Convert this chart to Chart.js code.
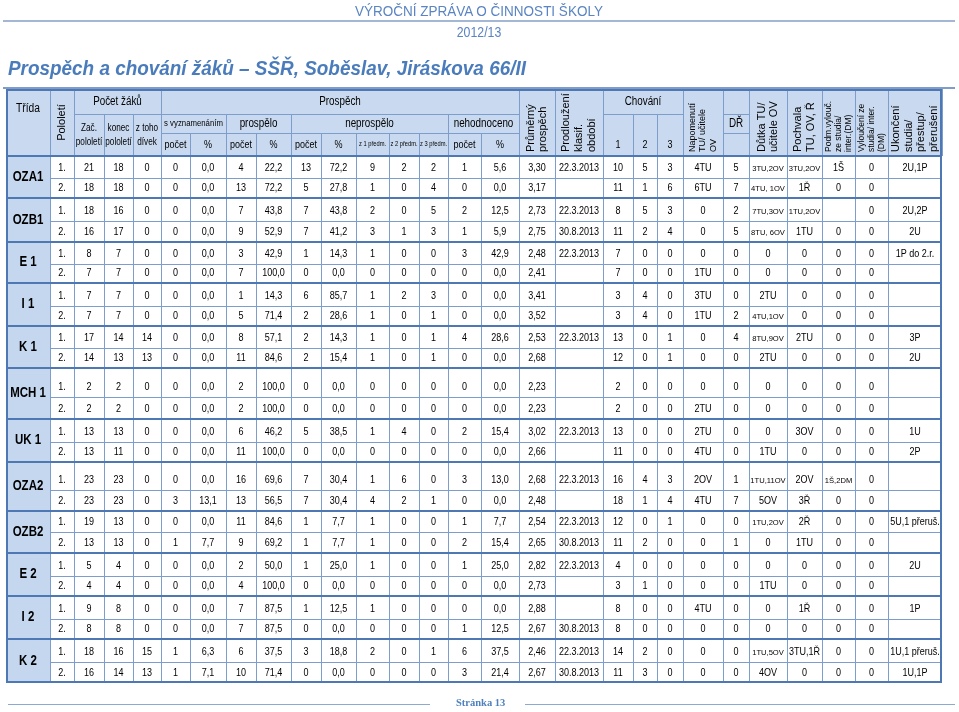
<!DOCTYPE html>
<html lang="cs">
<head>
<meta charset="utf-8">
<title>Prospěch a chování žáků</title>
<script src="https://cdn.jsdelivr.net/npm/chart.js@4.4.0/dist/chart.umd.min.js"></script>
<style>
html, body { margin: 0; padding: 0; background: #fff; }
body { width: 959px; height: 712px; position: relative; overflow: hidden; font-family: "Liberation Sans", Arial, sans-serif; }
#wrap { position: absolute; left: 0; top: 0; width: 959px; height: 712px; }
.txt { position: absolute; white-space: nowrap; color: #4f7fbf; line-height: 1; }
.line { position: absolute; }
#zprava { left: 479px; top: 3px; font-size: 15px; transform: translateX(-50%) scaleX(0.9); color: #5a84c2; }
#rok { left: 479px; top: 25px; font-size: 14px; transform: translateX(-50%) scaleX(0.88); color: #5a84c2; }
#nadpis { left: 8px; top: 57px; font-size: 21px; font-weight: bold; font-style: italic; transform-origin: 0 0; transform: scaleX(0.9); color: #4a7cbc; }
#strana { left: 456px; top: 698px; font-size: 10.5px; font-weight: bold; font-family: "Liberation Serif", "DejaVu Serif", serif; color: #4f81bd; }
</style>
</head>
<body>
<div id="wrap"><canvas id="tabulka"></canvas></div>
<div class="txt" id="zprava">VÝROČNÍ ZPRÁVA O ČINNOSTI ŠKOLY</div>
<div class="line" style="left:3px;top:20px;width:952px;height:2px;background:#a3b6d3"></div>
<div class="txt" id="rok">2012/13</div>
<div class="txt" id="nadpis">Prospěch a chování žáků – SŠŘ, Soběslav, Jiráskova 66/II</div>
<div class="line" style="left:3px;top:87px;width:952px;height:2px;background:#7f9ccb"></div>
<div class="line" style="left:8px;top:704px;width:422px;height:1px;background:#8ea9cf"></div>
<div class="txt" id="strana">Stránka 13</div>
<div class="line" style="left:525px;top:704px;width:430px;height:1px;background:#8ea9cf"></div>
<script>
// tridy a pololeti
const tridy = ['OZA1', 'OZB1', 'E 1', 'I 1', 'K 1', 'MCH 1', 'UK 1', 'OZA2', 'OZB2', 'E 2', 'I 2', 'K 2'];
const pololeti = ['1.', '2.'];

// pocet zaku
const zacPololeti = [21, 18, 18, 16, 8, 7, 7, 7, 17, 14, 2, 2, 13, 13, 23, 23, 19, 13, 5, 4, 9, 8, 18, 16];
const konecPololeti = [18, 18, 16, 17, 7, 7, 7, 7, 14, 13, 2, 2, 13, 11, 23, 23, 13, 13, 4, 4, 8, 8, 16, 14];
const divek = [0, 0, 0, 0, 0, 0, 0, 0, 14, 13, 0, 0, 0, 0, 0, 0, 0, 0, 0, 0, 0, 0, 15, 13];

// prospech
const vyznPocet = [0, 0, 0, 0, 0, 0, 0, 0, 0, 0, 0, 0, 0, 0, 0, 3, 0, 1, 0, 0, 0, 0, 1, 1];
const vyznProc = [0, 0, 0, 0, 0, 0, 0, 0, 0, 0, 0, 0, 0, 0, 0, 13.1, 0, 7.7, 0, 0, 0, 0, 6.3, 7.1];
const prospPocet = [4, 13, 7, 9, 3, 7, 1, 5, 8, 11, 2, 2, 6, 11, 16, 13, 11, 9, 2, 4, 7, 7, 6, 10];
const prospProc = [22.2, 72.2, 43.8, 52.9, 42.9, 100, 14.3, 71.4, 57.1, 84.6, 100, 100, 46.2, 100, 69.6, 56.5, 84.6, 69.2, 50, 100, 87.5, 87.5, 37.5, 71.4];
const neprospPocet = [13, 5, 7, 7, 1, 0, 6, 2, 2, 2, 0, 0, 5, 0, 7, 7, 1, 1, 1, 0, 1, 0, 3, 0];
const neprospProc = [72.2, 27.8, 43.8, 41.2, 14.3, 0, 85.7, 28.6, 14.3, 15.4, 0, 0, 38.5, 0, 30.4, 30.4, 7.7, 7.7, 25, 0, 12.5, 0, 18.8, 0];
const z1predm = [9, 1, 2, 3, 1, 0, 1, 1, 1, 1, 0, 0, 1, 0, 1, 4, 1, 1, 1, 0, 1, 0, 2, 0];
const z2predm = [2, 0, 0, 1, 0, 0, 2, 0, 0, 0, 0, 0, 4, 0, 6, 2, 0, 0, 0, 0, 0, 0, 0, 0];
const z3predm = [2, 4, 5, 3, 0, 0, 3, 1, 1, 1, 0, 0, 0, 0, 0, 1, 0, 0, 0, 0, 0, 0, 1, 0];
const nehodPocet = [1, 0, 2, 1, 3, 0, 0, 0, 4, 0, 0, 0, 2, 0, 3, 0, 1, 2, 1, 0, 0, 1, 6, 3];
const nehodProc = [5.6, 0, 12.5, 5.9, 42.9, 0, 0, 0, 28.6, 0, 0, 0, 15.4, 0, 13.0, 0, 7.7, 15.4, 25, 0, 0, 12.5, 37.5, 21.4];
const prumer = [3.30, 3.17, 2.73, 2.75, 2.48, 2.41, 3.41, 3.52, 2.53, 2.68, 2.23, 2.23, 3.02, 2.66, 2.68, 2.48, 2.54, 2.65, 2.82, 2.73, 2.88, 2.67, 2.46, 2.67];
const prodlouzeni = ['22.3.2013', '', '22.3.2013', '30.8.2013', '22.3.2013', '', '', '', '22.3.2013', '', '', '', '22.3.2013', '', '22.3.2013', '', '22.3.2013', '30.8.2013', '22.3.2013', '', '', '30.8.2013', '22.3.2013', '30.8.2013'];

// chovani
const chovani1 = [10, 11, 8, 11, 7, 7, 3, 3, 13, 12, 2, 2, 13, 11, 16, 18, 12, 11, 4, 3, 8, 8, 14, 11];
const chovani2 = [5, 1, 5, 2, 0, 0, 4, 4, 0, 0, 0, 0, 0, 0, 4, 1, 0, 2, 0, 1, 0, 0, 2, 3];
const chovani3 = [3, 6, 3, 4, 0, 0, 0, 0, 1, 1, 0, 0, 0, 0, 3, 4, 1, 0, 0, 0, 0, 0, 0, 0];
const napomenuti = ['4TU', '6TU', '0', '0', '0', '1TU', '3TU', '1TU', '0', '0', '0', '2TU', '2TU', '4TU', '2OV', '4TU', '0', '0', '0', '0', '4TU', '0', '0', '0'];
const dr = [5, 7, 2, 5, 0, 0, 0, 2, 4, 0, 0, 0, 0, 0, 1, 7, 0, 1, 0, 0, 0, 0, 0, 0];
const dutka = ['3TU,2OV', '4TU, 1OV', '7TU,3OV', '8TU, 6OV', '0', '0', '2TU', '4TU,1OV', '8TU,9OV', '2TU', '0', '0', '0', '1TU', '1TU,11OV', '5OV', '1TU,2OV', '0', '0', '1TU', '0', '0', '1TU,5OV', '4OV'];
const pochvala = ['3TU,2OV', '1Ř', '1TU,2OV', '1TU', '0', '0', '0', '0', '2TU', '0', '0', '0', '3OV', '0', '2OV', '3Ř', '2Ř', '1TU', '0', '0', '1Ř', '0', '3TU,1Ř', '0'];
const podmVylouceni = ['1Š', '0', '', '0', '0', '0', '0', '0', '0', '0', '0', '0', '0', '0', '1Š,2DM', '0', '0', '0', '0', '0', '0', '0', '0', '0'];
const vylouceni = ['0', '0', '0', '0', '0', '0', '0', '0', '0', '0', '0', '0', '0', '0', '0', '0', '0', '0', '0', '0', '0', '0', '0', '0'];
const ukonceni = ['2U,1P', '', '2U,2P', '2U', '1P do 2.r.', '', '', '', '3P', '2U', '', '', '1U', '2P', '', '', '5U,1 přeruš.', '', '2U', '', '1P', '', '1U,1 přeruš.', '1U,1P'];

// rozlozeni tabulky (sirky sloupcu, vysky radku)
const sirky = [44, 24, 30, 29, 28, 29, 36, 30, 35, 30, 35, 33, 30, 29, 33, 38, 36, 48, 30, 24, 26, 40, 26, 38, 35, 33, 33, 54];
const vyskyHlavicky = [25, 19, 23];
const vyskyRadku = [22, 20, 23, 21, 22, 19, 23, 20, 22, 20, 29, 22, 23, 20, 28, 21, 21, 21, 23, 20, 23, 20, 23, 21];

const colX = [0];
sirky.forEach(w => colX.push(colX[colX.length - 1] + w));
const headY = [0];
vyskyHlavicky.forEach(h => headY.push(headY[headY.length - 1] + h));
const rowY = [headY[3]];
vyskyRadku.forEach(h => rowY.push(rowY[rowY.length - 1] + h));
const sirkaCelkem = colX[colX.length - 1];
const vyskaCelkem = rowY[rowY.length - 1];

const cela = v => String(v);
const proc = v => v.toFixed(1).replace('.', ',');
const prum = v => v.toFixed(2).replace('.', ',');
const text = v => v;

const sloupce = [
    [zacPololeti, cela], [konecPololeti, cela], [divek, cela],
    [vyznPocet, cela], [vyznProc, proc], [prospPocet, cela], [prospProc, proc],
    [neprospPocet, cela], [neprospProc, proc], [z1predm, cela], [z2predm, cela], [z3predm, cela],
    [nehodPocet, cela], [nehodProc, proc], [prumer, prum], [prodlouzeni, text],
    [chovani1, cela], [chovani2, cela], [chovani3, cela], [napomenuti, text], [dr, cela],
    [dutka, text], [pochvala, text], [podmVylouceni, text], [vylouceni, text], [ukonceni, text]
];

// hlavicka: [c0, c1, r0, r1, text, velikost, typ]
// typ: n = uzke pismo, r = otocene od spodu, rc = otocene na stred, t = nahore, b = dole
const hlavicka = [
    [0, 0, 0, 2, 'Třída', 12.5, 't'],
    [1, 1, 0, 2, 'Pololetí', 11, 'rc'],
    [2, 4, 0, 0, 'Počet žáků', 12, 'n'],
    [2, 2, 1, 2, 'Zač.\npololetí', 10, 'n'],
    [3, 3, 1, 2, 'konec\npololetí', 10, 'n'],
    [4, 4, 1, 2, 'z toho\ndívek', 10, 'n'],
    [5, 15, 0, 0, 'Prospěch', 12, 'n'],
    [5, 6, 1, 1, 's vyznamenáním', 9.5, 'n'],
    [7, 8, 1, 1, 'prospělo', 12, 'n'],
    [9, 13, 1, 1, 'neprospělo', 12, 'n'],
    [14, 15, 1, 1, 'nehodnoceno', 12, 'n'],
    [5, 5, 2, 2, 'počet', 11, 'n'], [6, 6, 2, 2, '%', 11, 'n'],
    [7, 7, 2, 2, 'počet', 11, 'n'], [8, 8, 2, 2, '%', 11, 'n'],
    [9, 9, 2, 2, 'počet', 11, 'n'], [10, 10, 2, 2, '%', 11, 'n'],
    [11, 11, 2, 2, 'z 1 předm.', 7, 'n'], [12, 12, 2, 2, 'z 2 předm.', 7, 'n'], [13, 13, 2, 2, 'z 3 předm.', 7, 'n'],
    [14, 14, 2, 2, 'počet', 11, 'n'], [15, 15, 2, 2, '%', 11, 'n'],
    [16, 16, 0, 2, 'Průměrný\nprospěch', 11, 'r'],
    [17, 17, 0, 2, 'Prodloužení\nklasif.\nobdobí', 11, 'r'],
    [18, 20, 0, 0, 'Chování', 12, 'n'],
    [18, 18, 1, 2, '1', 11, 'b'], [19, 19, 1, 2, '2', 11, 'b'], [20, 20, 1, 2, '3', 11, 'b'],
    [21, 21, 0, 2, 'Napomenutí\nTU/ učitele\nOV', 9, 'r'],
    [22, 22, 0, 0, '', 11, 'n'], [22, 22, 1, 1, 'DŘ', 12, 'n'], [22, 22, 2, 2, '', 11, 'n'],
    [23, 23, 0, 2, 'Důtka TU/\nučitele OV', 11, 'r'],
    [24, 24, 0, 2, 'Pochvala\nTU, OV, Ř', 11, 'r'],
    [25, 25, 0, 2, 'Podm.vylouč.\nze studia/\ninter.(DM)', 8.5, 'r'],
    [26, 26, 0, 2, 'Vyloučení ze\nstudia/ inter.\n(DM)', 8.5, 'r'],
    [27, 27, 0, 2, 'Ukončení\nstudia/\npřestup/\npřerušení', 11, 'r']
];

const FONT = '"Liberation Sans", Arial, sans-serif';
const CARA = '#7d9dcc';
const CARA_SILNA = '#4d78b4';
const PODKLAD = '#c9daf0';

function uzkyText(ctx, s, x, y, size, weight, sx) {
    ctx.save();
    ctx.translate(x, y);
    ctx.scale(sx, 1);
    ctx.font = (weight || 'normal') + ' ' + size + 'px ' + FONT;
    ctx.textAlign = 'center';
    ctx.textBaseline = 'middle';
    ctx.fillStyle = '#000';
    ctx.fillText(s, 0, 0);
    ctx.restore();
}

function cara(ctx, x1, y1, x2, y2, w, col) {
    ctx.beginPath();
    ctx.lineWidth = w;
    ctx.strokeStyle = col;
    const o = w % 2 ? 0.5 : 0;
    if (y1 === y2) { y1 = y2 = Math.round(y1) + o; } else { x1 = x2 = Math.round(x1) + o; }
    ctx.moveTo(x1, y1);
    ctx.lineTo(x2, y2);
    ctx.stroke();
}

const tabulkaPlugin = {
    id: 'tabulka',
    beforeDatasetsDraw(chart) {
        const ctx = chart.ctx;
        const X = v => chart.scales.x.getPixelForValue(v);
        const Y = v => chart.scales.y.getPixelForValue(v);
        ctx.save();
        // podklad hlavicky a sloupce Trida
        ctx.fillStyle = PODKLAD;
        ctx.fillRect(X(0), Y(0), X(sirkaCelkem) - X(0), Y(headY[3]) - Y(0));
        ctx.fillStyle = '#c4d7ef';
        ctx.fillRect(X(0), Y(headY[3]), X(colX[1]) - X(0), Y(vyskaCelkem) - Y(headY[3]));

        // mrizka hlavicky
        hlavicka.forEach(h => {
            const x1 = X(colX[h[0]]), x2 = X(colX[h[1] + 1]);
            const y1 = Y(headY[h[2]]), y2 = Y(headY[h[3] + 1]);
            cara(ctx, x1, y1, x2, y1, 1, CARA);
            cara(ctx, x1, y2, x2, y2, 1, CARA);
            cara(ctx, x1, y1, x1, y2, 1, CARA);
            cara(ctx, x2, y1, x2, y2, 1, CARA);
        });

        // mrizka dat
        for (let c = 1; c < sirky.length; c++) {
            cara(ctx, X(colX[c]), Y(headY[3]), X(colX[c]), Y(vyskaCelkem), 1, CARA);
        }
        for (let r = 1; r < vyskyRadku.length; r++) {
            if (r % 2 === 1) {
                cara(ctx, X(colX[1]), Y(rowY[r]), X(sirkaCelkem), Y(rowY[r]), 1, CARA);
            } else {
                cara(ctx, X(0), Y(rowY[r]), X(sirkaCelkem), Y(rowY[r]), 2, CARA_SILNA);
            }
        }
        cara(ctx, X(0), Y(headY[3]), X(sirkaCelkem), Y(headY[3]), 2, CARA_SILNA);
        ctx.lineWidth = 2;
        ctx.strokeStyle = CARA_SILNA;
        ctx.strokeRect(X(0) + 1, Y(0) + 1, X(sirkaCelkem) - X(0) - 2, Y(vyskaCelkem) - Y(0) - 2);

        // texty hlavicky
        hlavicka.forEach(h => {
            if (!h[4]) return;
            const x1 = X(colX[h[0]]), x2 = X(colX[h[1] + 1]);
            const y1 = Y(headY[h[2]]), y2 = Y(headY[h[3] + 1]);
            const cx = (x1 + x2) / 2;
            const radky = h[4].split('\n');
            const size = h[5];
            const typ = h[6];
            if (typ === 'r' || typ === 'rc') {
                const lh = size * 1.15;
                ctx.save();
                ctx.translate(cx, typ === 'rc' ? (y1 + y2) / 2 : y2 - 4);
                ctx.rotate(-Math.PI / 2);
                ctx.font = size + 'px ' + FONT;
                ctx.fillStyle = '#000';
                ctx.textAlign = typ === 'rc' ? 'center' : 'left';
                ctx.textBaseline = 'middle';
                radky.forEach((s, i) => ctx.fillText(s, 0, (i - (radky.length - 1) / 2) * lh));
                ctx.restore();
            } else {
                const lh = size * 1.35;
                let cy = (y1 + y2) / 2;
                if (typ === 't') cy = y1 + 20;
                if (typ === 'b') cy = y2 - 11.5;
                radky.forEach((s, i) => uzkyText(ctx, s, cx, cy + (i - (radky.length - 1) / 2) * lh, size, 'normal', 0.82));
            }
        });
        ctx.restore();
    },
    afterDatasetsDraw(chart) {
        const ctx = chart.ctx;
        chart.data.datasets.forEach((ds, di) => {
            const meta = chart.getDatasetMeta(di);
            meta.data.forEach((el, i) => {
                const s = ds.texty[i];
                if (s === '' || s === null) return;
                if (ds.tucne) {
                    uzkyText(ctx, s, el.x, el.y, 14, 'bold', 0.82);
                } else if (/,.*(OV|DM)/.test(s)) {
                    uzkyText(ctx, s, el.x, el.y + 0.5, 8, 'normal', 0.95);
                } else {
                    uzkyText(ctx, s, el.x, el.y, 11, 'normal', 0.82);
                }
            });
        });
    }
};

const stred = c => (colX[c] + colX[c + 1]) / 2;
const radekY = i => rowY[i + 1] - 10;

const datasets = [];
datasets.push({
    label: 'Třída',
    tucne: true,
    texty: tridy,
    data: tridy.map((t, g) => ({ x: stred(0), y: (rowY[g * 2] + rowY[g * 2 + 2]) / 2 }))
});
const pololetiRadky = tridy.flatMap(() => pololeti);
datasets.push({
    label: 'Pololetí',
    texty: pololetiRadky,
    data: pololetiRadky.map((p, i) => ({ x: stred(1), y: radekY(i) }))
});
sloupce.forEach((s, k) => {
    const [hodnoty, fmt] = s;
    datasets.push({
        label: 'sloupec ' + (k + 2),
        texty: hodnoty.map(v => (v === '' || v === null) ? '' : fmt(v)),
        data: hodnoty.map((v, i) => ({ x: stred(k + 2), y: radekY(i) }))
    });
});

const ctx = document.getElementById('tabulka').getContext('2d');
const tabulka = new Chart(ctx, {
    type: 'scatter',
    data: { datasets: datasets },
    options: {
        responsive: true,
        maintainAspectRatio: false,
        animation: false,
        events: [],
        elements: { point: { radius: 0, hoverRadius: 0 } },
        layout: { padding: { left: 6, right: 959 - 6 - sirkaCelkem, top: 89, bottom: 712 - 89 - vyskaCelkem } },
        scales: {
            x: { type: 'linear', min: 0, max: sirkaCelkem, display: false },
            y: { type: 'linear', min: 0, max: vyskaCelkem, reverse: true, display: false }
        },
        plugins: {
            legend: { display: false },
            tooltip: { enabled: false }
        }
    },
    plugins: [tabulkaPlugin]
});
</script>
</body>
</html>
